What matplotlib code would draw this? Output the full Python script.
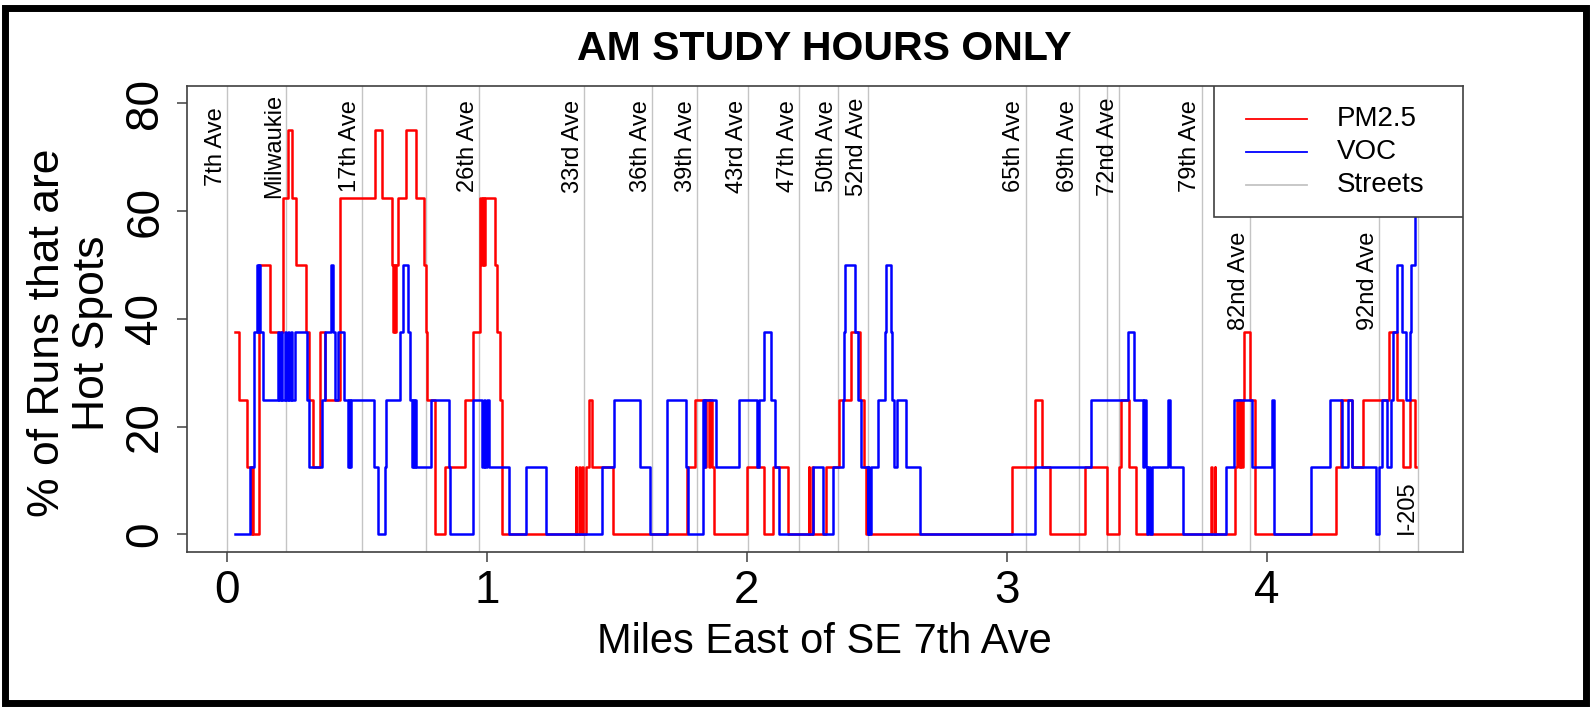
import matplotlib
matplotlib.use('Agg')
import matplotlib.pyplot as plt
from matplotlib.patches import Rectangle
from matplotlib.lines import Line2D

plt.rcParams['font.family'] = ['Liberation Sans', 'DejaVu Sans']

# Streets (miles east of SE 7th Ave)
street_x = [0.0, 0.227, 0.519, 0.765, 0.970, 1.375, 1.635, 1.810, 2.006, 2.201,
            2.352, 2.468, 3.073, 3.278, 3.385, 3.433, 3.750, 3.936, 4.433, 4.583]
street_names = ['7th Ave', 'Milwaukie', '17th Ave', '', '26th Ave', '33rd Ave',
                '36th Ave', '39th Ave', '43rd Ave', '47th Ave', '50th Ave',
                '52nd Ave', '65th Ave', '69th Ave', '', '72nd Ave', '79th Ave',
                '82nd Ave', '92nd Ave', 'I-205']

# PM2.5 hot spot % (step changes: miles, value)
pm_x = [0.032, 0.045, 0.077, 0.094, 0.098, 0.102, 0.122, 0.165, 0.215, 0.235,
        0.250, 0.267, 0.305, 0.318, 0.330, 0.360, 0.377, 0.436, 0.570, 0.597,
        0.635, 0.638, 0.642, 0.646, 0.652, 0.660, 0.690, 0.728, 0.758, 0.765,
        0.769, 0.800, 0.840, 0.918, 0.948, 0.975, 0.980, 0.984, 0.988, 0.992,
        1.030, 1.040, 1.050, 1.058, 1.342, 1.345, 1.355, 1.358, 1.368, 1.371,
        1.380, 1.395, 1.406, 1.487, 1.770, 1.800, 1.838, 1.845, 1.855, 1.860,
        1.867, 1.875, 2.000, 2.066, 2.100, 2.160, 2.238, 2.241, 2.250, 2.253,
        2.303, 2.355, 2.402, 2.437, 2.450, 2.458, 3.022, 3.110, 3.137, 3.165,
        3.300, 3.387, 3.430, 3.440, 3.470, 3.498, 3.786, 3.789, 3.800, 3.803,
        3.880, 3.885, 3.892, 3.898, 3.903, 3.908, 3.912, 3.935, 3.955, 4.265,
        4.285, 4.330, 4.372, 4.470, 4.500, 4.525, 4.550, 4.570, 4.575]
pm_y = [37.5, 25, 12.5, 0, 12.5, 0, 50, 37.5, 62.5, 75,
        62.5, 50, 37.5, 25, 12.5, 37.5, 25, 62.5, 75, 62.5,
        50, 37.5, 50, 37.5, 50, 62.5, 75, 62.5, 50, 37.5,
        25, 0, 12.5, 25, 37.5, 62.5, 50, 62.5, 50, 62.5,
        50, 37.5, 25, 0, 12.5, 0, 12.5, 0, 12.5, 0,
        12.5, 25, 12.5, 0, 12.5, 25, 12.5, 25, 12.5, 25,
        12.5, 0, 12.5, 0, 12.5, 0, 12.5, 0, 12.5, 0,
        12.5, 25, 37.5, 25, 12.5, 0, 12.5, 25, 12.5, 0,
        12.5, 0, 12.5, 25, 12.5, 0, 12.5, 0, 12.5, 0,
        12.5, 25, 12.5, 25, 12.5, 25, 37.5, 25, 0, 12.5,
        25, 12.5, 25, 37.5, 25, 12.5, 25, 12.5, 12.5]

# VOC hot spot %
voc_x = [0.032, 0.090, 0.106, 0.115, 0.119, 0.122, 0.126, 0.141, 0.196, 0.200,
         0.209, 0.213, 0.222, 0.226, 0.235, 0.239, 0.248, 0.252, 0.261, 0.310,
         0.318, 0.365, 0.378, 0.400, 0.410, 0.418, 0.428, 0.452, 0.466, 0.470,
         0.474, 0.478, 0.566, 0.570, 0.582, 0.607, 0.614, 0.666, 0.678, 0.698,
         0.706, 0.712, 0.716, 0.720, 0.724, 0.728, 0.784, 0.855, 0.859, 0.946,
         0.980, 0.990, 0.995, 1.000, 1.007, 1.085, 1.150, 1.226, 1.445, 1.488,
         1.588, 1.626, 1.692, 1.766, 1.775, 1.830, 1.836, 1.840, 1.880, 1.972,
         2.038, 2.047, 2.068, 2.093, 2.108, 2.125, 2.253, 2.292, 2.333, 2.370,
         2.374, 2.378, 2.418, 2.428, 2.440, 2.465, 2.468, 2.472, 2.478, 2.505,
         2.530, 2.536, 2.553, 2.558, 2.565, 2.577, 2.613, 2.667, 3.107, 3.325,
         3.466, 3.490, 3.525, 3.530, 3.535, 3.540, 3.545, 3.550, 3.558, 3.620,
         3.627, 3.678, 3.845, 3.873, 3.945, 4.020, 4.028, 4.172, 4.243, 4.290,
         4.312, 4.330, 4.420, 4.432, 4.443, 4.461, 4.478, 4.485, 4.500, 4.522,
         4.535, 4.553, 4.556, 4.571, 4.575]
voc_y = [0, 12.5, 37.5, 50, 37.5, 50, 37.5, 25, 37.5, 25,
         37.5, 25, 37.5, 25, 37.5, 25, 37.5, 25, 37.5, 25,
         12.5, 25, 37.5, 50, 37.5, 25, 37.5, 25, 12.5, 25,
         12.5, 25, 12.5, 12.5, 0, 12.5, 25, 37.5, 50, 37.5,
         25, 12.5, 25, 12.5, 25, 12.5, 25, 12.5, 0, 25,
         12.5, 25, 12.5, 25, 12.5, 0, 12.5, 0, 12.5, 25,
         12.5, 0, 25, 12.5, 0, 25, 12.5, 25, 12.5, 25,
         12.5, 25, 37.5, 25, 12.5, 0, 12.5, 0, 12.5, 25,
         37.5, 50, 37.5, 25, 12.5, 0, 12.5, 0, 12.5, 25,
         37.5, 50, 37.5, 25, 12.5, 25, 12.5, 0, 12.5, 25,
         37.5, 25, 12.5, 25, 12.5, 0, 12.5, 0, 12.5, 25,
         12.5, 0, 12.5, 25, 12.5, 25, 0, 12.5, 25, 12.5,
         25, 12.5, 0, 12.5, 25, 12.5, 25, 37.5, 50, 37.5,
         25, 37.5, 50, 62.5, 62.5]

W, H = 1592, 708
fig = plt.figure(figsize=(W / 100, H / 100), dpi=100)
ax = fig.add_axes([187.3 / W, 1 - 551.7 / H, 1275.4 / W, 465.7 / H])

for sx in street_x:
    ax.axvline(sx, color='#C4C4C4', lw=1.0, zorder=1)

low = {'82nd Ave': 47, '92nd Ave': 47, 'I-205': 5}
for sx, name in zip(street_x, street_names):
    if name:
        ax.text(sx - 0.0435, low.get(name, 72), name, rotation=90, ha='center',
                va='center', fontsize=17, zorder=2)

ax.step(pm_x, pm_y, where='post', color='#FF0000', lw=1.8, zorder=3)
ax.step(voc_x, voc_y, where='post', color='#0000FF', lw=1.8, zorder=4)

ax.set_xlim(-0.152, 4.754)
ax.set_ylim(-3.2, 83.2)
ax.set_xticks([0, 1, 2, 3, 4])
ax.set_yticks([0, 20, 40, 60, 80])
for s in ax.spines.values():
    s.set_color('#404040')
    s.set_linewidth(1.2)
ax.tick_params(axis='both', direction='out', length=7.5, width=1.1,
               color='#404040', labelsize=33)
ax.tick_params(axis='x', pad=5)
ax.tick_params(axis='y', pad=7, labelrotation=90)
for lbl in ax.get_yticklabels():
    lbl.set_va('center')

# legend box
ax.add_patch(Rectangle((0.8053, 0.7193), 0.1947, 0.2807, transform=ax.transAxes,
                       facecolor='white', edgecolor='#404040', lw=1.2, zorder=10))
leg_items = [('PM2.5', '#FF0000'), ('VOC', '#0000FF'), ('Streets', '#C4C4C4')]
for (lab, col), yy in zip(leg_items, [0.9285, 0.8589, 0.7874]):
    ax.add_line(Line2D([0.8299, 0.8777], [yy, yy], transform=ax.transAxes,
                       color=col, lw=1.3, zorder=11))
    ax.text(0.9015, yy, lab, transform=ax.transAxes, ha='left', va='center',
            fontsize=20, zorder=11)

fig.text(824 / W, 1 - 49 / H, 'AM STUDY HOURS ONLY', ha='center', va='center',
         fontsize=29.5, fontweight='bold')
fig.text(824 / W, 1 - 642 / H, 'Miles East of SE 7th Ave', ha='center',
         va='center', fontsize=30)
fig.text(69.6 / W, 1 - 333 / H, '% of Runs that are\nHot Spots', ha='center',
         va='center', rotation=90, fontsize=32, linespacing=1.12)

fig.patches.append(Rectangle((5 / W, 5 / H), 1581 / W, 695 / H,
                             transform=fig.transFigure, fill=False,
                             edgecolor='black', lw=5))

fig.savefig('out.png', dpi=100)
